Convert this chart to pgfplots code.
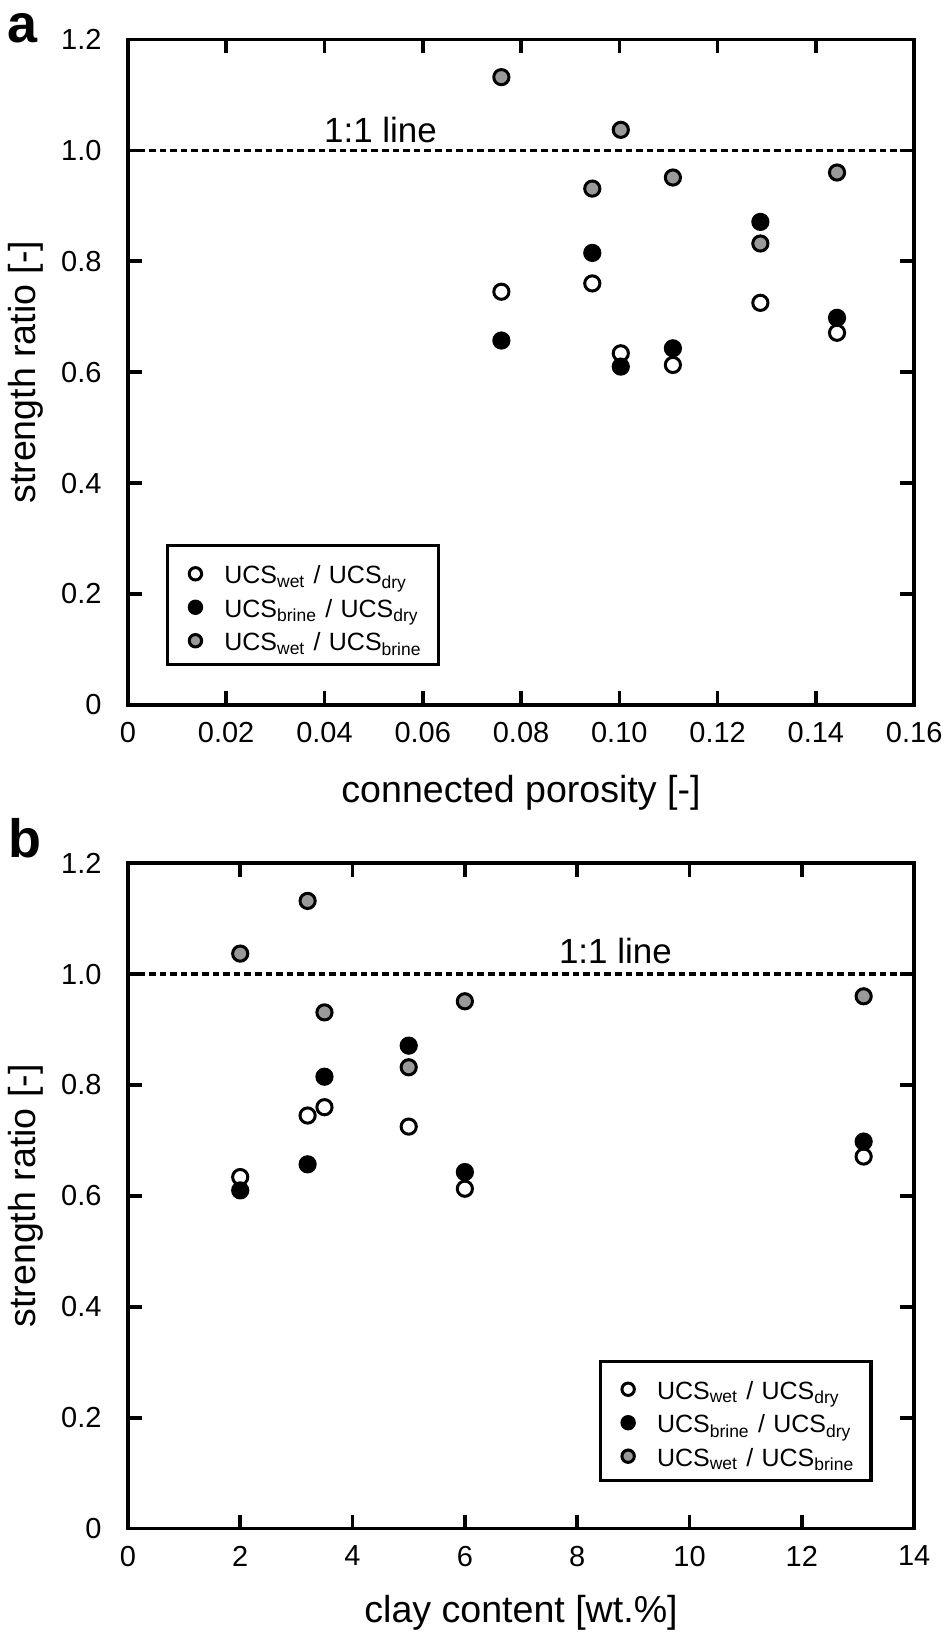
\documentclass[border=0pt]{standalone}
\usepackage{fontspec}
\setmainfont{Liberation Sans}
\usepackage{pgfplots}
\usepackage{pgfplotstable}
\pgfplotsset{compat=1.18}

\definecolor{markgray}{RGB}{153,153,153}

% por = connected porosity [-], clay = clay content [wt.%]
\pgfplotstableread{
por     clay  wetdry  brinedry  wetbrine
0.0760  3.2   0.745   0.657     1.132
0.0945  3.5   0.760   0.815     0.931
0.1003  2.0   0.634   0.610     1.037
0.1109  6.0   0.613   0.643     0.951
0.1287  5.0   0.725   0.871     0.832
0.1443  13.1  0.671   0.698     0.960
}\ucsdata

\pgfplotsset{
  ratioaxis/.style={
    width=393.5pt, height=333pt, scale only axis,
    anchor=south west,
    axis line style={line width=1.8pt},
    every tick/.style={black, line width=1.8pt},
    major tick length=7pt,
    tick align=inside,
    ymin=0, ymax=1.2,
    ytick={0,0.2,0.4,0.6,0.8,1.0,1.2},
    yticklabels={0,0.2,0.4,0.6,0.8,1.0,1.2},
    ticklabel style={font=\fontsize{14.5}{17}\selectfont, inner sep=0pt},
    yticklabel style={anchor=east, xshift=-13pt},
    xticklabel style={anchor=north, yshift=-8.5pt},
    label style={font=\fontsize{18.8}{22}\selectfont},
    ylabel style={at={([xshift=-46pt]axis description cs:0,0.5)}, anchor=base},
    ylabel={strength ratio [-]},
    legend cell align=left,
    legend image code/.code={
      \path[draw=none] (0pt,0pt) rectangle (22pt,0pt);
      \draw[##1, mark size=3.1pt] plot coordinates {(11pt,-1pt)};
    },
    legend style={draw=black, line width=1.6pt,
      font=\fontsize{12.5}{15}\selectfont,
      inner xsep=3pt, inner ysep=4.6pt, row sep=0pt, column sep=3.5pt,
      nodes={inner sep=0pt, text height=14.4pt, text depth=2.35pt, text width=104pt}},
  },
  wd/.style={only marks, mark=*, mark size=3.8pt,
    mark options={draw=black, fill=white, line width=1.5pt}},
  bd/.style={only marks, mark=*, mark size=3.8pt,
    mark options={draw=black, fill=black, line width=1.5pt}},
  wb/.style={only marks, mark=*, mark size=3.8pt,
    mark options={draw=black, fill=markgray, line width=1.5pt}},
  oneline/.style={black, line width=1.7pt, dash pattern=on 3.3pt off 2pt, forget plot},
}

\newcommand{\ucsentries}{%
  \legend{UCS\textsubscript{wet}~/~UCS\textsubscript{dry},
          UCS\textsubscript{brine}~/~UCS\textsubscript{dry},
          UCS\textsubscript{wet}~/~UCS\textsubscript{brine}}}

\begin{document}
\begin{tikzpicture}
  \path (0,0) rectangle (472pt,818.5pt);

  \node[font=\bfseries\fontsize{27}{30}\selectfont, anchor=base] at (11.5pt,797pt) {a};
  \node[font=\bfseries\fontsize{27}{30}\selectfont, anchor=base] at (12.5pt,389.5pt) {b};

  % panel a
  \begin{axis}[ratioaxis, at={(64pt,465.75pt)},
      xmin=0, xmax=0.16,
      xtick={0,0.02,0.04,0.06,0.08,0.10,0.12,0.14,0.16},
      xticklabels={0,0.02,0.04,0.06,0.08,0.10,0.12,0.14,0.16},
      xlabel={connected porosity [-]},
      xlabel style={at={([yshift=-49pt]axis description cs:0.5,0)}, anchor=base},
      legend style={at={(0.0483,0.058)}, anchor=south west}]
    \addplot[oneline] coordinates {(0,1) (0.16,1)};
    \addplot[wd] table[x=por, y=wetdry] {\ucsdata};
    \addplot[bd] table[x=por, y=brinedry] {\ucsdata};
    \addplot[wb] table[x=por, y=wetbrine] {\ucsdata};
    \ucsentries
    \node[anchor=base, yshift=4pt, font=\fontsize{17.5}{20}\selectfont]
      at (axis cs:0.0514,1) {1:1 line};
  \end{axis}

  % panel b
  \begin{axis}[ratioaxis, at={(64pt,53.5pt)},
      xmin=0, xmax=14,
      xtick={0,2,4,6,8,10,12,14},
      xticklabels={0,2,4,6,8,10,12,14},
      xlabel={clay content [wt.\%]},
      xlabel style={at={([yshift=-47pt]axis description cs:0.5,0)}, anchor=base},
      legend style={at={(0.947,0.0705)}, anchor=south east}]
    \addplot[oneline] coordinates {(0,1) (14,1)};
    \addplot[wd] table[x=clay, y=wetdry] {\ucsdata};
    \addplot[bd] table[x=clay, y=brinedry] {\ucsdata};
    \addplot[wb] table[x=clay, y=wetbrine] {\ucsdata};
    \ucsentries
    \node[anchor=base, yshift=5.5pt, font=\fontsize{17.5}{20}\selectfont]
      at (axis cs:8.68,1) {1:1 line};
  \end{axis}
\end{tikzpicture}
\end{document}
